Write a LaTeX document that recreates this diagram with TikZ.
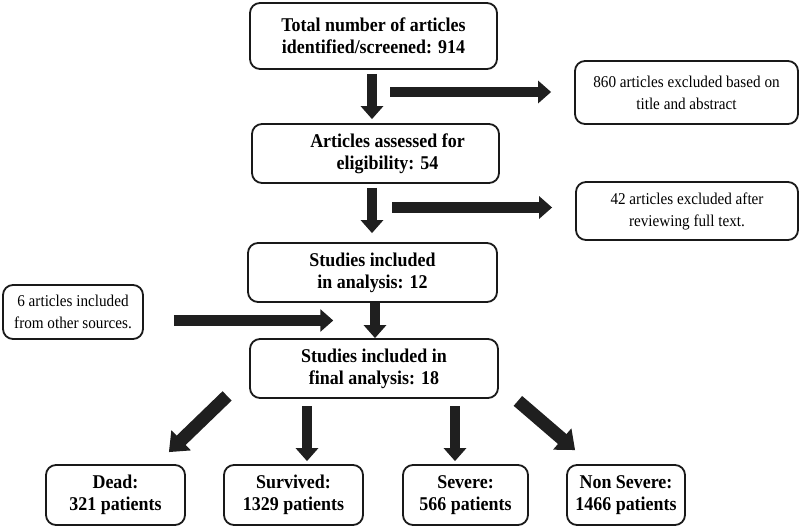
\documentclass[tikz,border=0pt]{standalone}
\usepackage{fontspec}
\setmainfont[FakeStretch=0.92]{Liberation Serif}
\usepackage{tikz}
\usetikzlibrary{arrows.meta,calc}

\begin{document}
\begin{tikzpicture}[x=1pt,y=-1pt,
        box/.style={draw=black!90, line width=1.8pt, rounded corners=10pt, align=center, inner sep=0pt},
        boldbox/.style={box, font=\fontsize{19.5}{22}\selectfont\bfseries},
        plainbox/.style={box, font=\fontsize{16.5}{22}\selectfont},
        fat/.style={draw=black!88, line width=10.5pt, -{Triangle[width=22pt,length=13pt]}},
        fatter/.style={draw=black!88, line width=13pt, -{Triangle[width=27pt,length=17pt]}}]
        \useasboundingbox (0,0) rectangle (800,528);

        \node[boldbox, minimum width=247pt, minimum height=66pt] (total) at (373.5,36) {Total number of articles\\identified/screened: 914};
        \node[plainbox, minimum width=223pt, minimum height=63pt] (excl1) at (686.5,92.5) {860 articles excluded based on\\title and abstract};
        \node[boldbox, minimum width=247pt, minimum height=59pt] (assess) at (375.5,153.5) {\hspace*{24pt}Articles assessed for\\\hspace*{24pt}eligibility: 54};
        \node[plainbox, minimum width=222pt, minimum height=58pt] (excl2) at (687,211) {42 articles excluded after\\reviewing full text.};
        \node[boldbox, minimum width=249pt, minimum height=59pt] (incl) at (372.5,272.5) {Studies included\\in analysis: 12};
        \node[plainbox, minimum width=140pt, minimum height=54pt] (other) at (73,312) {6 articles included\\from other sources.};
        \node[boldbox, minimum width=248pt, minimum height=59pt] (final) at (374,368.5) {Studies included in\\final analysis: 18};

        \node[boldbox, minimum width=139pt, minimum height=60pt] (dead) at (115.5,495) {Dead:\\321 patients};
        \node[boldbox, minimum width=139pt, minimum height=60pt] (surv) at (293.5,495) {Survived:\\1329 patients};
        \node[boldbox, minimum width=125pt, minimum height=60pt] (sev) at (465.5,495) {Severe:\\566 patients};
        \node[boldbox, minimum width=118pt, minimum height=60pt] (nonsev) at (626,495) {Non Severe:\\1466 patients};

        \coordinate (j1) at (390,92);
        \coordinate (j2) at (392,207.5);
        \coordinate (j3) at ($(incl.south)!0.5!(final.north)$);

        \draw[fat] ($(total.south)+(-1.5,4)$) -- ($(assess.north)+(-3.5,-4)$);
        \draw[fat] ($(assess.south)+(-3.5,4)$) -- ($(incl.north)+(-0.5,-9)$);
        \draw[fat] ($(incl.south)+(2.5,0)$) -- ($(final.north)+(1,0)$);
        \draw[fat, shorten >=23pt] (j1) -- (j1 -| excl1.west);
        \draw[fat, shorten >=23pt] (j2) -- (j2 -| excl2.west);
        \draw[fat, shorten <=30pt, shorten >=40pt] (j3 -| other.east) -- (j3);

        \draw[fatter] ($(final.south west)+(-22,-3)$) -- ($(dead.north east)+(-17,-12)$);
        \draw[fat] ($(surv.north)+(13.5,-58)$) -- ($(surv.north)+(13.5,-3)$);
        \draw[fat] ($(sev.north)+(-10.5,-58)$) -- ($(sev.north)+(-10.5,-3)$);
        \draw[fatter] ($(final.south east)+(19,2)$) -- ($(nonsev.north west)+(9,-14)$);
    \end{tikzpicture}
\end{document}
